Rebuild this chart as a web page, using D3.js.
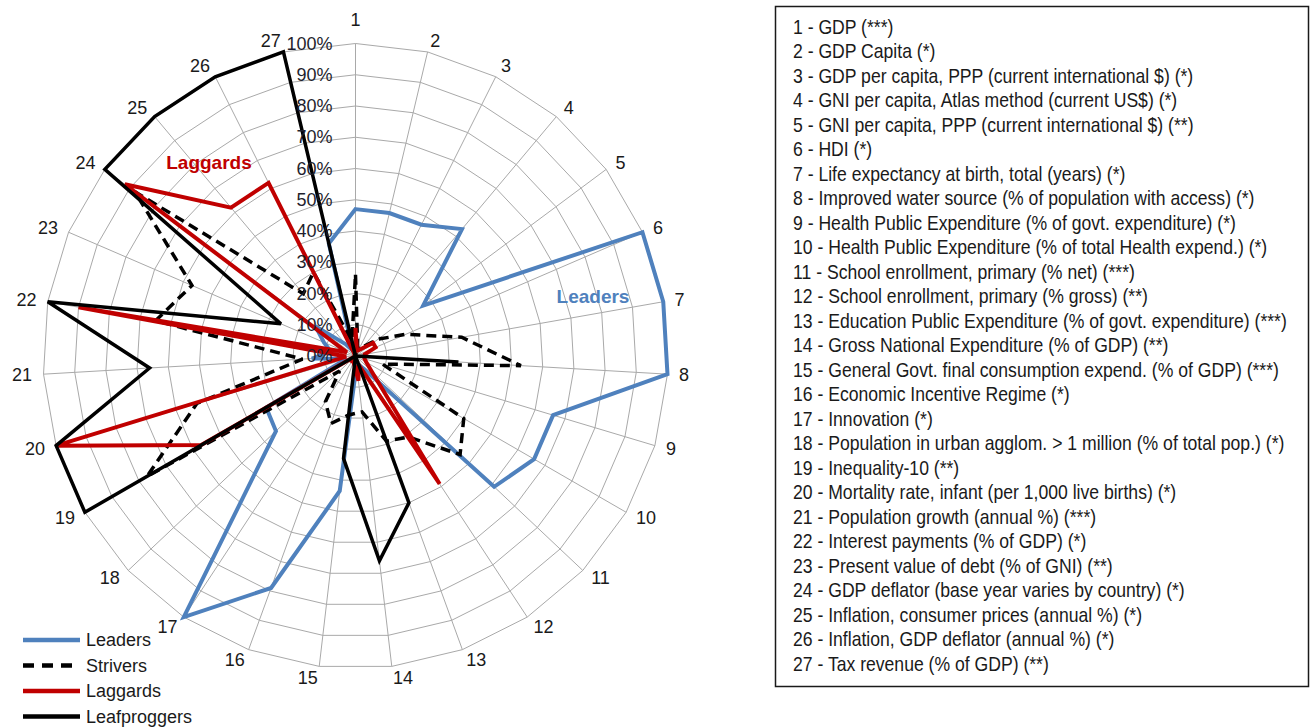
<!DOCTYPE html>
<html><head><meta charset="utf-8">
<script src="https://cdn.jsdelivr.net/npm/d3@7"></script>
<style>
html,body{margin:0;padding:0;background:#fff;}
svg{display:block;}
</style></head>
<body>
<svg id="chart" width="1316" height="728"></svg>
<script>
// ---------- data ----------
const categories = ["1","2","3","4","5","6","7","8","9","10","11","12","13","14","15","16","17","18","19","20","21","22","23","24","25","26","27"];
const descriptions = [
"1 - GDP (***)",
"2 - GDP Capita (*)",
"3 - GDP per capita, PPP (current international $) (*)",
"4 - GNI per capita, Atlas method (current US$) (*)",
"5 - GNI per capita, PPP (current international $) (**)",
"6 - HDI (*)",
"7 - Life expectancy at birth, total (years) (*)",
"8 - Improved water source (% of population with access) (*)",
"9 - Health Public Expenditure (% of govt. expenditure) (*)",
"10 - Health Public Expenditure (% of total Health expend.) (*)",
"11 - School enrollment, primary (% net) (***)",
"12 - School enrollment, primary (% gross) (**)",
"13 - Education Public Expenditure (% of govt. expenditure) (***)",
"14 - Gross National Expenditure (% of GDP) (**)",
"15 - General Govt. final consumption expend. (% of GDP) (***)",
"16 - Economic Incentive Regime (*)",
"17 - Innovation (*)",
"18 - Population in urban agglom. > 1 million (% of total pop.) (*)",
"19 - Inequality-10 (**)",
"20 - Mortality rate, infant (per 1,000 live births) (*)",
"21 - Population growth (annual %) (***)",
"22 - Interest payments (% of GDP) (*)",
"23 - Present value of debt (% of GNI) (**)",
"24 - GDP deflator (base year varies by country) (*)",
"25 - Inflation, consumer prices (annual %) (*)",
"26 - Inflation, GDP deflator (annual %) (*)",
"27 - Tax revenue (% of GDP) (**)"
];
const tickLabels = ["0%","10%","20%","30%","40%","50%","60%","70%","80%","90%","100%"];
const tickValues = [0,0.1,0.2,0.3,0.4,0.5,0.6,0.7,0.8,0.9,1.0];
const seriesNames = ["Leaders","Strivers","Laggards","Leafproggers"];

const leaders      = [0.47,0.47,0.47,0.53,0.27,1.00,1.00,1.00,0.66,0.66,0.61,0.05,0.03,0.03,0.435,0.79,1.00,0.35,0.33,0.03,0.14,0.08,0.11,0.16,0.05,0.02,0.37];
const strivers     = [0.26,0.03,0.04,0.04,0.09,0.175,0.345,0.53,0.09,0.40,0.46,0.31,0.29,0.18,0.19,0.23,0.175,0.07,0.77,0.53,0.17,0.65,0.57,0.88,0.26,0.30,0.05];
const laggards     = [0.09,0.02,0.02,0.03,0.07,0.07,0.03,0.03,0.03,0.04,0.07,0.49,0.03,0.08,0.03,0.02,0.02,0.00,0.57,1.00,0.03,0.90,0.03,0.92,0.62,0.62,0.00];
const leafproggers = [0.00,0.00,0.00,0.00,0.00,0.00,0.00,0.33,0.00,0.00,0.00,0.00,0.50,0.66,0.33,0.00,0.00,0.00,1.00,1.00,0.66,1.00,0.26,1.00,1.00,1.00,1.00];

// ---------- layout ----------
const cx = 355.5, cy = 356, R = 312.5, labelR = 324;
const svg = d3.select("#chart");
const g = svg.append("g").attr("transform", `translate(${cx},${cy})`);
const n = categories.length;
const angle = d3.scaleLinear().domain([0, n]).range([0, 2*Math.PI]);
const r = d3.scaleLinear().domain([0, 1]).range([0, R]);
const px = (i, rad) => rad * Math.sin(angle(i));
const py = (i, rad) => -rad * Math.cos(angle(i));

// grid rings (polygons)
const gridColor = "#a9a9a9";
tickValues.slice(1).forEach(t => {
  g.append("path")
    .attr("d", d3.lineRadial().angle((d,i)=>angle(i)).radius(()=>r(t)).curve(d3.curveLinearClosed)(categories))
    .attr("fill","none").attr("stroke",gridColor).attr("stroke-width",1);
});
// spokes
g.selectAll("line.spoke").data(categories).join("line")
  .attr("class","spoke")
  .attr("x1",0).attr("y1",0)
  .attr("x2",(d,i)=>px(i,r(1))).attr("y2",(d,i)=>py(i,r(1)))
  .attr("stroke",gridColor).attr("stroke-width",1);

// axis labels (anchored outside, Excel-like)
g.selectAll("text.cat").data(categories).join("text")
  .attr("class","cat")
  .attr("x",(d,i)=>px(i,labelR))
  .attr("y",(d,i)=>py(i,labelR) - (Math.abs(Math.sin(angle(i)))<1e-6 ? 12.5 : 0))
  .attr("text-anchor",(d,i)=>{const s=Math.sin(angle(i)); return s>1e-6?"start":(s<-1e-6?"end":"middle");})
  .attr("dominant-baseline","central")
  .attr("font-family","Liberation Sans, Arial, sans-serif").attr("font-size",18)
  .attr("fill","#1a1a1a")
  .text(d=>d);

// series
const series = [
  {name:"Leaders", values:leaders, color:"#4f81bd", width:4, dash:null},
  {name:"Strivers", values:strivers, color:"#000000", width:3.5, dash:"10,6"},
  {name:"Laggards", values:laggards, color:"#c00000", width:4, dash:null},
  {name:"Leafproggers", values:leafproggers, color:"#000000", width:3.5, dash:null}
];
const radial = d3.lineRadial().angle((d,i)=>angle(i)).radius(d=>r(d)).curve(d3.curveLinearClosed);
series.forEach(s=>{
  g.append("path").attr("d", radial(s.values))
    .attr("fill","none").attr("stroke",s.color).attr("stroke-width",s.width)
    .attr("stroke-linejoin","miter").attr("stroke-miterlimit",3)
    .attr("stroke-dasharray", s.dash);
});

// tick labels along axis 1
g.selectAll("text.tick").data(tickValues).join("text")
  .attr("class","tick")
  .attr("x",-23).attr("y",d=>-r(d))
  .attr("text-anchor","end").attr("dominant-baseline","central")
  .attr("font-family","Liberation Sans, Arial, sans-serif").attr("font-size",18)
  .attr("fill","#1f1f2e")
  .text((d,i)=>tickLabels[i]);

// inline labels
svg.append("text").attr("x",593).attr("y",296).attr("text-anchor","middle").attr("dominant-baseline","central")
  .attr("font-family","Liberation Sans, Arial, sans-serif").attr("font-size",19).attr("font-weight","bold")
  .attr("fill","#4f81bd").text("Leaders");
svg.append("text").attr("x",209).attr("y",162).attr("text-anchor","middle").attr("dominant-baseline","central")
  .attr("font-family","Liberation Sans, Arial, sans-serif").attr("font-size",19).attr("font-weight","bold")
  .attr("fill","#c00000").text("Laggards");

// legend
const lg = svg.append("g");
series.forEach((s,i)=>{
  const y = 640 + i*25.5;
  lg.append("line").attr("x1",23).attr("x2",80).attr("y1",y).attr("y2",y)
    .attr("stroke",s.color).attr("stroke-width",4.5).attr("stroke-dasharray", s.dash ? "11,8" : null);
  lg.append("text").attr("x",86).attr("y",y).attr("dominant-baseline","central")
    .attr("font-family","Liberation Sans, Arial, sans-serif").attr("font-size",18)
    .attr("fill","#1a1a1a").text(s.name);
});

// description box
svg.append("rect").attr("x",775.5).attr("y",6.5).attr("width",533).attr("height",680)
  .attr("fill","#fff").attr("stroke","#1a1a1a").attr("stroke-width",1.5);
const dg = svg.append("g").attr("transform","translate(793,0) scale(0.88,1)");
dg.selectAll("text.desc").data(descriptions).join("text")
  .attr("class","desc")
  .attr("x",0).attr("y",(d,i)=>27 + i*24.5)
  .attr("dominant-baseline","central")
  .attr("font-family","Liberation Sans Narrow, Arial Narrow, Liberation Sans, sans-serif").attr("font-size",20)
  .attr("fill","#1a1a1a").text(d=>d);
</script>
</body></html>
